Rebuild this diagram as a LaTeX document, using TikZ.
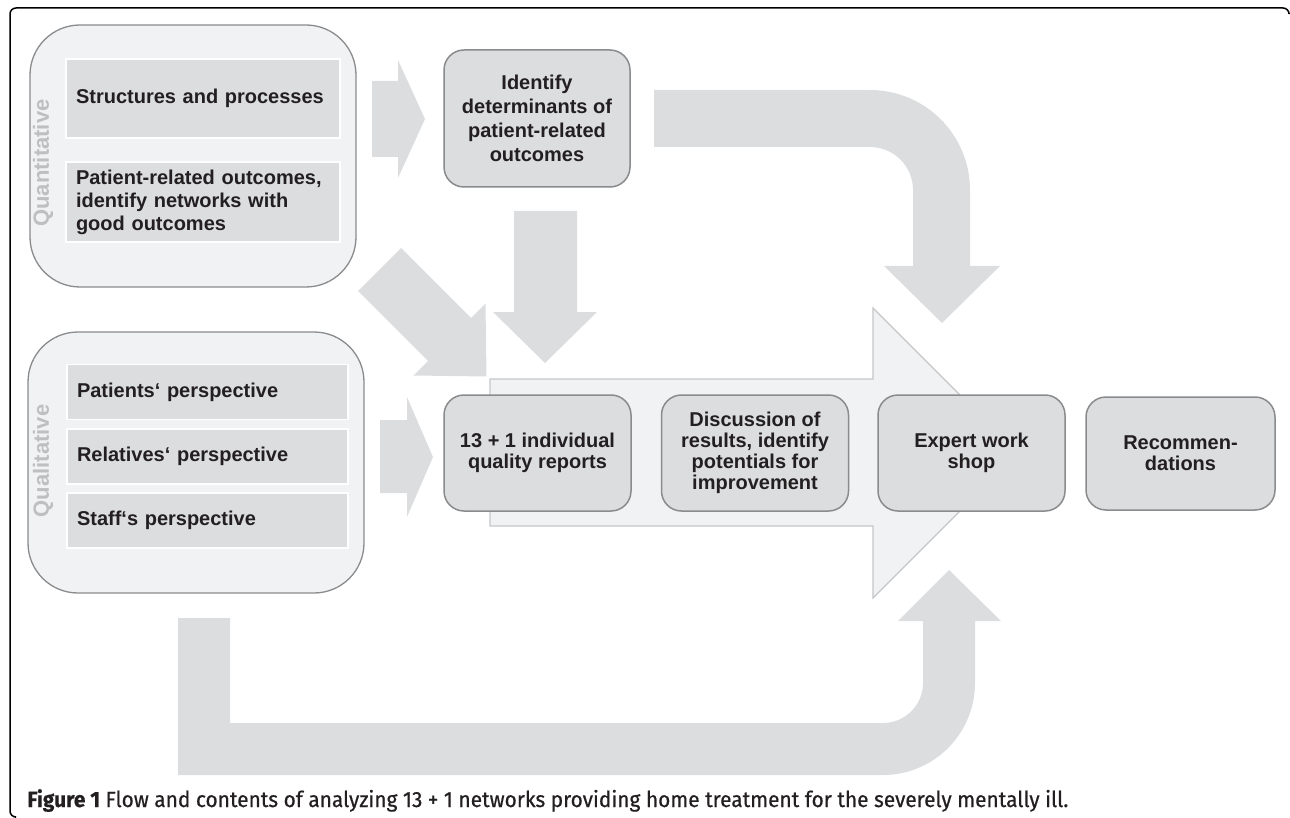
\documentclass[tikz,border=0pt]{standalone}
\usepackage{fontspec}
\setmainfont{Liberation Sans}
\newfontfamily\capfont[FakeBold=0.6]{Fira Sans}
\definecolor{boxgray}{HTML}{DCDDDF}
\definecolor{palegray}{HTML}{F1F2F3}
\definecolor{edgegray}{HTML}{8A8B8D}
\definecolor{lightedge}{HTML}{C5C6C8}
\definecolor{labelgray}{HTML}{BDBFC1}
\definecolor{inkgray}{HTML}{231F20}
\tikzset{flowarrow/.style={fill=boxgray, draw=none},
   grouparea/.style={draw=edgegray, line width=0.65pt, fill=palegray, rounded corners=25pt, inner sep=0pt},
   itembox/.style={draw=white, line width=0.8pt, fill=boxgray, inner xsep=5pt, inner ysep=0pt, text width=#1, align=left,
      text=inkgray, font=\bfseries\fontsize{10}{11.5}\selectfont},
   stepbox/.style={draw=edgegray, line width=0.75pt, fill=boxgray, rounded corners=10pt, inner sep=2pt, align=center,
      text=inkgray, font=\bfseries\fontsize{10}{10.5}\selectfont},
   sidelabel/.style={rotate=90, inner sep=0pt, text=labelgray, font=\fontsize{11}{13}\selectfont\bfseries}}

\begin{document}
\begin{tikzpicture}[x=0.5pt,y=-0.5pt]
   \useasboundingbox (0,0) rectangle (1290,818);
   \draw[line width=0.75pt, rounded corners=3pt] (1289,13) -- (1289,8) -- (10,8) -- (10,817) -- (15,817);
   % main flow
   \draw[fill=palegray, draw=lightedge, line width=0.6pt] (490,379) -- (873,379) -- (873,308) -- (1018,453)
      -- (873,598) -- (873,526) -- (490,526) -- cycle;
   \fill[flowarrow] (372,81) -- (398,81) -- (398,60) -- (425,119) -- (398,178) -- (398,157) -- (372,157) -- cycle;
   \fill[flowarrow] (380,420) -- (407,420) -- (407,397) -- (433,457) -- (407,517) -- (407,493) -- (380,493) -- cycle;
   \fill[flowarrow] (358,291) -- (401,248) -- (471,318) -- (485.5,303.5) -- (486.5,376.5) -- (413.5,375.5)
      -- (428,361) -- cycle;
   \fill[flowarrow] (514,211) -- (577,211) -- (577,312) -- (597,312) -- (545,363) -- (493,312) -- (514,312) -- cycle;
   \fill[flowarrow] (654,90) -- (870,90) arc(-90:0:100) -- (970,266) -- (1000,266) -- (942,323) -- (884,266)
      -- (913,266) -- (913,190) arc(0:-90:43) -- (654,147) -- cycle;
   \fill[flowarrow] (178,618) -- (230,618) -- (230,723) -- (883,723) arc(90:0:40) -- (923,621) -- (898,621)
      -- (949,570) -- (1001,621) -- (975,621) -- (975,683) arc(0:90:92) -- (178,775) -- cycle;
   % data sources
   \node[grouparea, minimum width=163pt, minimum height=131pt] (quant) at (193,156) {};
   \node[grouparea, minimum width=168pt, minimum height=130.5pt] (qual) at (196,462.5) {};
   \node[sidelabel] (quantlbl) at (43,163) {Quantitative};
   \node[sidelabel] (quallbl) at (43,461) {Qualitative};
   \node[itembox=127pt, minimum height=39.5pt] (struct) at (203,98.5) {Structures and processes};
   \node[itembox=127pt, minimum height=40pt] (outcomes) at (203,202)
      {Patient-related outcomes,\\identify networks with\\good outcomes};
   \foreach \n/\y/\t in {patients/392/Patients‘ perspective, relatives/456.5/Relatives‘ perspective,
      staff/520.5/Staff‘s perspective} {
      \node[itembox=130.5pt, minimum height=27.5pt] (\n) at (207.5,\y) {\t};
   }
   % steps
   \node[stepbox, minimum width=93pt, minimum height=68.5pt, font=\bfseries\fontsize{10}{12}\selectfont]
      (ident) at (537,118.5) {Identify\\determinants of\\patient-related\\outcomes};
   \foreach \n/\x/\t in {reports/537.5/{13 + 1 individual\\quality reports},
      discuss/755/{Discussion of\\results, identify\\potentials for\\improvement},
      expert/971.5/{Expert work\\shop}} {
      \node[stepbox, minimum width=93.5pt, minimum height=58pt] (\n) at (\x,453) {\t};
   }
   \node[stepbox, minimum width=94.5pt, minimum height=56.5pt] (recom) at (1180.5,453.5) {Recommen-\\dations};
   \node[anchor=base west, inner sep=0pt, text=inkgray] (caption) at (27,807) {\resizebox{520.5pt}{\height}{\capfont
      \fontsize{11}{13}\selectfont\textbf{Figure 1} Flow and contents of analyzing 13 + 1 networks providing home
      treatment for the severely mentally ill.}};
\end{tikzpicture}
\end{document}
